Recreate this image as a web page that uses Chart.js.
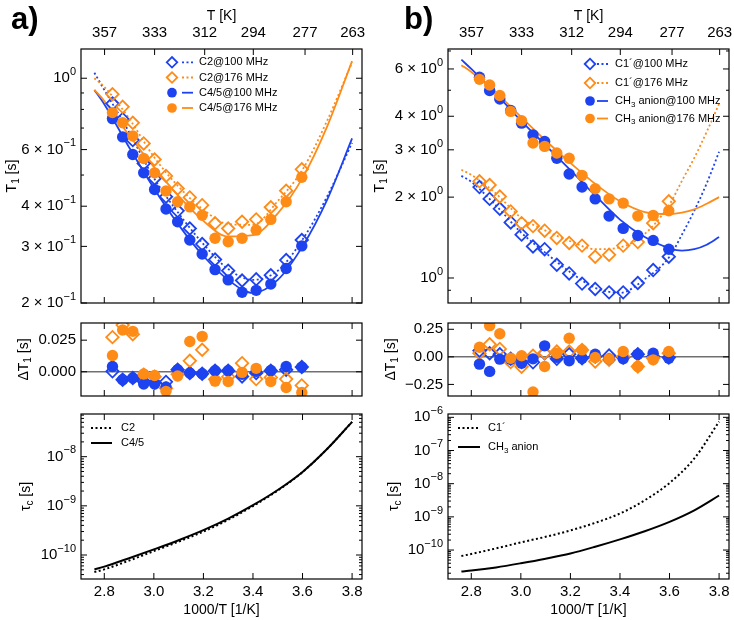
<!DOCTYPE html>
<html>
<head>
<meta charset="utf-8">
<title>T1 relaxation</title>
<script src="https://cdn.jsdelivr.net/npm/chart.js@4.4.1/dist/chart.umd.min.js"></script>
<style>
  html, body { margin: 0; padding: 0; background: #fff; }
  body { width: 734px; height: 620px; position: relative; overflow: hidden; }
  canvas { position: absolute; }
</style>
</head>
<body>
<canvas id="aTop" width="367" height="312" style="left:0;top:0"></canvas>
<canvas id="aRes" width="367" height="92" style="left:0;top:312px"></canvas>
<canvas id="aTau" width="367" height="216" style="left:0;top:404px"></canvas>
<canvas id="bTop" width="367" height="312" style="left:367px;top:0"></canvas>
<canvas id="bRes" width="367" height="92" style="left:367px;top:312px"></canvas>
<canvas id="bTau" width="367" height="216" style="left:367px;top:404px"></canvas>
<script>
const BLUE = "#1d42f0";
const ORANGE = "#ff8b17";
const FONT = "'Liberation Sans', Arial, Helvetica, sans-serif";

// shared x axis, 1000/T [1/K]
const xRange = [2.706, 3.840];
const xTicks = [2.8, 3.0, 3.2, 3.4, 3.6, 3.8];
const tempTicksK = [357, 333, 312, 294, 277, 263];

// measurement temperatures as 1000/T
const invT = [2.833, 2.874, 2.915, 2.959, 3.003, 3.049, 3.096, 3.145, 3.195, 3.247, 3.300, 3.356, 3.413, 3.472, 3.534, 3.597];

// grids the fitted curves are read on
const fitX  = [2.76, 2.8, 2.9, 3.0, 3.1, 3.2, 3.3, 3.4, 3.5, 3.6, 3.7, 3.8];
const fitXb = [2.76, 2.8, 2.9, 3.0, 3.1, 3.2, 3.3, 3.4, 3.5, 3.6, 3.65, 3.7, 3.75, 3.8];

// a) T1 [s]
const t1C2_100  = [0.834, 0.746, 0.642, 0.543, 0.488, 0.428, 0.387, 0.341, 0.305, 0.273, 0.252, 0.235, 0.237, 0.244, 0.272, 0.314];
const t1C2_176  = [0.892, 0.815, 0.727, 0.627, 0.559, 0.497, 0.454, 0.426, 0.403, 0.354, 0.341, 0.358, 0.364, 0.397, 0.447, 0.521];
const t1C45_100 = [0.749, 0.657, 0.579, 0.508, 0.451, 0.392, 0.358, 0.314, 0.284, 0.254, 0.236, 0.216, 0.219, 0.229, 0.256, 0.301];
const t1C45_176 = [0.782, 0.727, 0.661, 0.563, 0.508, 0.446, 0.413, 0.398, 0.375, 0.318, 0.310, 0.318, 0.337, 0.364, 0.413, 0.492];
const fitC2_100  = [1.04, 0.92, 0.68, 0.49, 0.38, 0.305, 0.255, 0.236, 0.252, 0.315, 0.43, 0.63];
const fitC2_176  = [1.0, 0.94, 0.75, 0.57, 0.46, 0.39, 0.352, 0.35, 0.415, 0.52, 0.74, 1.12];
const fitC45_100 = [0.92, 0.83, 0.61, 0.455, 0.35, 0.28, 0.236, 0.215, 0.236, 0.30, 0.42, 0.65];
const fitC45_176 = [0.92, 0.85, 0.665, 0.53, 0.43, 0.36, 0.322, 0.325, 0.38, 0.49, 0.71, 1.13];

// a) residuals [s]
const resC2_100  = [0.0003, -0.0063, -0.0050, -0.0076, -0.0085, -0.0080, 0.0016, -0.0010, -0.0016, 0.0008, 0.0008, -0.0037, -0.0010, 0.0008, 0.0016, 0.0037];
const resC2_176  = [0.0274, 0.0370, 0.0297, -0.0024, -0.0040, -0.0130, -0.0020, 0.0087, 0.0174, -0.0060, -0.0040, 0.0068, -0.0058, -0.0045, -0.0058, -0.0108];
const resC45_100 = [0.0042, -0.0063, -0.0050, -0.0097, -0.0097, -0.0120, 0.0016, -0.0010, -0.0016, 0.0008, 0.0008, -0.0020, 0.0003, 0.0010, 0.0042, 0.0037];
const resC45_176 = [0.0129, 0.0330, 0.0320, -0.0018, -0.0030, -0.0155, -0.0034, 0.0240, 0.0280, -0.0074, -0.0077, -0.0005, 0.0027, -0.0077, -0.0125, -0.0164];

// a) correlation times [s]
const tauC2  = [4.5e-11, 5.1e-11, 7.7e-11, 1.2e-10, 1.87e-10, 3.0e-10, 5.2e-10, 9.9e-10, 2.05e-9, 4.85e-9, 1.45e-8, 5.1e-8];
const tauC45 = [5.1e-11, 5.8e-11, 8.6e-11, 1.3e-10, 2.0e-10, 3.2e-10, 5.5e-10, 1.03e-9, 2.1e-9, 4.9e-9, 1.45e-8, 5.1e-8];

// b) T1 [s]
const t1C1_100  = [2.18, 1.97, 1.81, 1.61, 1.45, 1.31, 1.28, 1.12, 1.04, 0.953, 0.910, 0.884, 0.884, 0.958, 1.07, 1.20];
const t1C1_176  = [2.29, 2.22, 2.01, 1.77, 1.60, 1.56, 1.50, 1.41, 1.35, 1.32, 1.20, 1.22, 1.32, 1.36, 1.60, 1.93];
const t1CH3_100 = [5.59, 4.99, 4.64, 4.20, 3.77, 3.41, 3.22, 2.79, 2.44, 2.18, 1.97, 1.70, 1.53, 1.44, 1.38, 1.28];
const t1CH3_176 = [5.49, 5.23, 4.78, 4.17, 3.85, 3.18, 3.09, 2.92, 2.79, 2.41, 2.15, 1.97, 1.90, 1.70, 1.71, 1.78];
const fitC1_100  = [2.4, 2.28, 1.86, 1.48, 1.24, 1.05, 0.92, 0.88, 0.99, 1.2, 1.45, 1.78, 2.25, 2.95];
const fitC1_176  = [2.53, 2.42, 2.06, 1.68, 1.5, 1.37, 1.28, 1.3, 1.46, 1.88, 2.3, 2.8, 3.5, 4.45];
const fitCH3_100 = [6.5, 6.0, 4.85, 3.85, 3.12, 2.52, 2.03, 1.65, 1.42, 1.29, 1.265, 1.28, 1.33, 1.42];
const fitCH3_176 = [6.2, 5.85, 4.9, 3.98, 3.25, 2.68, 2.24, 1.93, 1.76, 1.73, 1.75, 1.8, 1.89, 2.0];

// b) residuals [s]
const resC1_100  = [0.057, 0.033, 0.024, -0.018, -0.048, -0.050, 0.033, -0.018, 0.024, -0.012, 0.003, 0.012, -0.006, 0.024, 0.003, -0.006];
const resC1_176  = [0.033, 0.114, 0.072, -0.048, -0.090, 0.010, 0.035, 0.048, 0.048, 0.063, -0.042, -0.027, 0.003, -0.087, -0.012, 0.033];
const resCH3_100 = [-0.066, -0.132, -0.021, -0.021, -0.057, -0.018, 0.100, -0.005, -0.036, -0.012, 0.024, -0.018, -0.018, 0.024, 0.033, -0.012];
const resCH3_176 = [0.087, 0.283, 0.210, -0.012, 0.010, -0.319, -0.088, 0.033, 0.169, 0.063, -0.006, -0.018, 0.048, -0.087, -0.027, 0.048];

// b) correlation times [s]
const tauC1  = [6.6e-11, 7.6e-11, 1.12e-10, 1.7e-10, 2.5e-10, 3.9e-10, 6.6e-10, 1.26e-9, 3.16e-9, 1.05e-8, 5.75e-8, 7.4e-7];
const tauCH3 = [2.24e-11, 2.4e-11, 3.0e-11, 4.0e-11, 5.5e-11, 7.9e-11, 1.26e-10, 2.1e-10, 3.7e-10, 7.1e-10, 1.58e-9, 4.4e-9];

// y axes: ranges, tick values, tick labels ("^" starts a superscript)
const t1RangeA = [0.2, 1.233];
const t1TicksA = [0.2, 0.3, 0.4, 0.6, 1];
const t1LabelsA = ["2 × 10^−1", "3 × 10^−1", "4 × 10^−1", "6 × 10^−1", "10^0"];
const t1MinorA = [0.5, 0.7, 0.8, 0.9];
const t1RangeB = [0.807, 7.12];
const t1TicksB = [1, 2, 3, 4, 6];
const t1LabelsB = ["10^0", "2 × 10^0", "3 × 10^0", "4 × 10^0", "6 × 10^0"];
const t1MinorB = [0.9, 5, 7];
const resRangeA = [-0.0192, 0.0386];
const resTicksA = [0, 0.025];
const resLabelsA = ["0.000", "0.025"];
const resRangeB = [-0.355, 0.307];
const resTicksB = [-0.25, 0, 0.25];
const resLabelsB = ["−0.25", "0.00", "0.25"];
const tauRangeA = [3.25e-11, 7.38e-8];
const tauTicksA = [1e-10, 1e-9, 1e-8];
const tauLabelsA = ["10^−10", "10^−9", "10^−8"];
const tauRangeB = [1.34e-11, 1.26e-6];
const tauTicksB = [1e-10, 1e-9, 1e-8, 1e-7, 1e-6];
const tauLabelsB = ["10^−10", "10^−9", "10^−8", "10^−7", "10^−6"];

Chart.defaults.font.family = FONT;
Chart.defaults.color = "#000";

function pts(xs, ys) {
  return xs.map((x, i) => ({ x: x, y: ys[i] }));
}

function markerSet(ys, color, shape) {
  const open = shape === "diamond";
  return {
    data: pts(invT, ys),
    showLine: false,
    pointStyle: open ? "rectRot" : "circle",
    pointRadius: open ? 6.2 : 5.7,
    pointBorderWidth: open ? 1.8 : 0,
    pointBorderColor: color,
    pointBackgroundColor: open ? "rgba(255,255,255,0)" : color
  };
}

function curveSet(xs, ys, color, dotted, width) {
  return {
    data: pts(xs, ys),
    showLine: true,
    pointRadius: 0,
    borderColor: color,
    borderWidth: width || 1.8,
    borderDash: dotted ? [2, 2.5] : [],
    cubicInterpolationMode: "monotone",
    fill: false
  };
}

function minorLog(lo, hi) {
  const out = [];
  for (let e = Math.floor(Math.log10(lo)); e <= Math.ceil(Math.log10(hi)); e++) {
    for (let m = 2; m <= 9; m++) {
      const v = m * Math.pow(10, e);
      if (v > lo && v < hi) out.push(v);
    }
  }
  return out;
}

// ---- axes ----
const noGrid = { display: false, drawTicks: false };

function bottomAxis(height, labels) {
  return {
    type: "linear", position: "bottom", axis: "x",
    min: xRange[0], max: xRange[1], bounds: "data",
    grid: noGrid, border: { display: false },
    afterBuildTicks: s => { s.ticks = xTicks.map(v => ({ value: v })); },
    afterFit: s => { s.height = height; s.paddingLeft = 0; s.paddingRight = 0; },
    ticks: { display: labels, autoSkip: false, maxRotation: 0, padding: 4, font: { size: 15 },
             callback: v => v.toFixed(1) },
    title: { display: labels, text: "1000/T [1/K]", font: { size: 14 }, padding: { top: 0, bottom: 1 } }
  };
}

function tempAxis() {
  return {
    type: "linear", position: "top", axis: "x",
    min: xRange[0], max: xRange[1], bounds: "data",
    grid: noGrid, border: { display: false },
    afterBuildTicks: s => { s.ticks = tempTicksK.map(T => ({ value: 1000 / T })); },
    afterFit: s => { s.height = 49; s.paddingLeft = 0; s.paddingRight = 0; },
    ticks: { autoSkip: false, maxRotation: 0, padding: 7, font: { size: 15 },
             callback: (v, i) => String(tempTicksK[i]) },
    title: { display: true, text: "T [K]", font: { size: 14 }, padding: { top: 8, bottom: 0 } }
  };
}

// y labels are drawn by the decor plugin so exponents can be real superscripts
function leftAxis(type, range, ticks, labels) {
  return {
    type: type, position: "left", axis: "y",
    min: range[0], max: range[1], bounds: "data",
    grid: noGrid, border: { display: false },
    afterBuildTicks: s => { s.ticks = ticks.map(v => ({ value: v })); },
    afterFit: s => { s.width = 81; s.paddingTop = 0; s.paddingBottom = 0; },
    ticks: { display: false, autoSkip: false, callback: (v, i) => labels[i] }
  };
}

// ---- drawing helpers ----
function partFont(p, size) {
  const sz = p[1] === "sub" || p[1] === "sup" ? Math.round(size * 0.7) : size;
  return sz + "px " + FONT;
}

function drawParts(ctx, parts, x, y, size, align) {
  let total = 0;
  parts.forEach(p => { ctx.font = partFont(p, size); total += ctx.measureText(p[0]).width; });
  let cx = x;
  if (align === "center") cx = x - total / 2;
  if (align === "right") cx = x - total;
  ctx.textAlign = "left";
  ctx.textBaseline = "middle";
  parts.forEach(p => {
    ctx.font = partFont(p, size);
    let dy = 0;
    if (p[1] === "sub") dy = size * 0.3;
    if (p[1] === "sup") dy = -size * 0.42;
    ctx.fillText(p[0], cx, y + dy);
    cx += ctx.measureText(p[0]).width;
  });
}

function labelParts(label) {
  const bits = label.split("^");
  return bits.length > 1 ? [[bits[0]], [bits[1], "sup"]] : [[label]];
}

// box, inward ticks on all sides, optional zero line
function framePlugin(cfg) {
  return {
    id: "frame",
    beforeDatasetsDraw(chart) {
      if (!cfg.zeroLine) return;
      const { ctx, chartArea: a, scales } = chart;
      const py = scales.y.getPixelForValue(0);
      ctx.save();
      ctx.strokeStyle = "#707070";
      ctx.lineWidth = 1.5;
      ctx.beginPath();
      ctx.moveTo(a.left, py);
      ctx.lineTo(a.right, py);
      ctx.stroke();
      ctx.restore();
    },
    afterDatasetsDraw(chart) {
      const { ctx, chartArea: a, scales } = chart;
      const seg = (x0, y0, x1, y1) => { ctx.moveTo(x0, y0); ctx.lineTo(x1, y1); };
      ctx.save();
      ctx.strokeStyle = "#000";
      ctx.lineWidth = 1;
      ctx.setLineDash([]);
      ctx.beginPath();
      scales.x.ticks.forEach(t => {
        const px = scales.x.getPixelForValue(t.value);
        seg(px, a.bottom, px, a.bottom - 6);
      });
      const top = scales.x2 || scales.x;
      top.ticks.forEach(t => {
        const px = top.getPixelForValue(t.value);
        seg(px, a.top, px, a.top + 6);
      });
      scales.y.ticks.forEach(t => {
        const py = scales.y.getPixelForValue(t.value);
        seg(a.left, py, a.left + 6, py);
        seg(a.right, py, a.right - 6, py);
      });
      (cfg.minor || []).forEach(v => {
        const py = scales.y.getPixelForValue(v);
        seg(a.left, py, a.left + 3, py);
        seg(a.right, py, a.right - 3, py);
      });
      ctx.stroke();
      ctx.lineWidth = 1.2;
      ctx.strokeRect(a.left, a.top, a.right - a.left, a.bottom - a.top);
      ctx.restore();
    }
  };
}

// panel tag, y tick labels, y title, legend
function decorPlugin(cfg) {
  return {
    id: "decor",
    afterDraw(chart) {
      const { ctx, chartArea: a, scales } = chart;
      ctx.save();
      ctx.fillStyle = "#000";
      if (cfg.tag) {
        ctx.font = "bold 31px " + FONT;
        ctx.textAlign = "left";
        ctx.textBaseline = "alphabetic";
        ctx.fillText(cfg.tag.text, cfg.tag.x, cfg.tag.y);
      }
      cfg.yLabels.forEach((lab, i) => {
        const py = scales.y.getPixelForValue(scales.y.ticks[i].value);
        drawParts(ctx, labelParts(lab), a.left - 5, py, 15, "right");
      });
      if (cfg.yTitle) {
        ctx.save();
        ctx.translate(cfg.yTitle.x, (a.top + a.bottom) / 2);
        ctx.rotate(-Math.PI / 2);
        drawParts(ctx, cfg.yTitle.parts, 0, 0, 14, "center");
        ctx.restore();
      }
      const L = cfg.legend;
      if (L) {
        L.rows.forEach((r, i) => {
          const y = L.ys[i];
          const ln = chart.data.datasets[r.ln];
          ctx.save();
          ctx.strokeStyle = ln.borderColor;
          ctx.lineWidth = ln.borderWidth;
          ctx.setLineDash(ln.borderDash || []);
          ctx.beginPath();
          ctx.moveTo(L.x0, y);
          ctx.lineTo(L.x1, y);
          ctx.stroke();
          ctx.restore();
          if (r.pt !== undefined) {
            const p = chart.data.datasets[r.pt];
            ctx.save();
            ctx.setLineDash([]);
            ctx.fillStyle = p.pointBackgroundColor;
            ctx.strokeStyle = p.pointBorderColor;
            ctx.lineWidth = p.pointBorderWidth;
            Chart.helpers.drawPoint(ctx, { pointStyle: p.pointStyle, radius: p.pointRadius * 0.85, rotation: 0,
                                           borderWidth: p.pointBorderWidth }, L.mx, y);
            ctx.restore();
          }
          ctx.fillStyle = "#000";
          drawParts(ctx, r.parts, L.tx, y, 11, "left");
        });
      }
      ctx.restore();
    }
  };
}

function makeChart(id, datasets, scales, padTop, frame, decor) {
  return new Chart(document.getElementById(id), {
    type: "scatter",
    data: { datasets: datasets },
    options: {
      responsive: false,
      animation: false,
      devicePixelRatio: 1,
      events: [],
      layout: { autoPadding: false, padding: { top: padTop, right: 5, bottom: 0, left: 0 } },
      plugins: { legend: { display: false }, tooltip: { enabled: false } },
      scales: scales
    },
    plugins: [framePlugin(frame), decorPlugin(decor)]
  });
}

const T1 = [["T"], ["1", "sub"], [" [s]"]];
const DT1 = [["ΔT"], ["1", "sub"], [" [s]"]];
const TAU = [["τ"], ["c", "sub"], [" [s]"]];

// ---- a) ----
makeChart("aTop", [
  markerSet(t1C45_176, ORANGE, "circle"),
  markerSet(t1C45_100, BLUE, "circle"),
  markerSet(t1C2_176, ORANGE, "diamond"),
  markerSet(t1C2_100, BLUE, "diamond"),
  curveSet(fitX, fitC45_176, ORANGE, false),
  curveSet(fitX, fitC45_100, BLUE, false),
  curveSet(fitX, fitC2_176, ORANGE, true),
  curveSet(fitX, fitC2_100, BLUE, true)
], {
  x: bottomAxis(9, false), x2: tempAxis(),
  y: leftAxis("logarithmic", t1RangeA, t1TicksA, t1LabelsA)
}, 0, { minor: t1MinorA }, {
  tag: { text: "a)", x: 11, y: 29 },
  yLabels: t1LabelsA,
  yTitle: { x: 12, parts: T1 },
  legend: {
    ys: [62.3, 77.5, 92.7, 108], mx: 172, x0: 182, x1: 193, tx: 199,
    rows: [
      { pt: 3, ln: 7, parts: [["C2@100 MHz"]] },
      { pt: 2, ln: 6, parts: [["C2@176 MHz"]] },
      { pt: 1, ln: 5, parts: [["C4/5@100 MHz"]] },
      { pt: 0, ln: 4, parts: [["C4/5@176 MHz"]] }
    ]
  }
});

makeChart("aRes", [
  markerSet(resC45_176, ORANGE, "circle"),
  markerSet(resC45_100, BLUE, "circle"),
  markerSet(resC2_176, ORANGE, "diamond"),
  markerSet(resC2_100, BLUE, "diamond")
], {
  x: bottomAxis(8, false),
  y: leftAxis("linear", resRangeA, resTicksA, resLabelsA)
}, 11, { zeroLine: true }, { yLabels: resLabelsA, yTitle: { x: 24, parts: DT1 } });

makeChart("aTau", [
  curveSet(fitX, tauC2, "#000", true, 2),
  curveSet(fitX, tauC45, "#000", false, 2)
], {
  x: bottomAxis(41, true),
  y: leftAxis("logarithmic", tauRangeA, tauTicksA, tauLabelsA)
}, 10, { minor: minorLog(tauRangeA[0], tauRangeA[1]) }, {
  yLabels: tauLabelsA,
  yTitle: { x: 26, parts: TAU },
  legend: {
    ys: [24, 39], x0: 91, x1: 112, tx: 121,
    rows: [
      { ln: 0, parts: [["C2"]] },
      { ln: 1, parts: [["C4/5"]] }
    ]
  }
});

// ---- b) ----
makeChart("bTop", [
  markerSet(t1CH3_176, ORANGE, "circle"),
  markerSet(t1CH3_100, BLUE, "circle"),
  markerSet(t1C1_176, ORANGE, "diamond"),
  markerSet(t1C1_100, BLUE, "diamond"),
  curveSet(fitXb, fitCH3_176, ORANGE, false),
  curveSet(fitXb, fitCH3_100, BLUE, false),
  curveSet(fitXb, fitC1_176, ORANGE, true),
  curveSet(fitXb, fitC1_100, BLUE, true)
], {
  x: bottomAxis(9, false), x2: tempAxis(),
  y: leftAxis("logarithmic", t1RangeB, t1TicksB, t1LabelsB)
}, 0, { minor: t1MinorB }, {
  tag: { text: "b)", x: 37, y: 29 },
  yLabels: t1LabelsB,
  yTitle: { x: 13, parts: T1 },
  legend: {
    ys: [64, 83, 101, 118.5], mx: 223, x0: 230, x1: 241, tx: 248,
    rows: [
      { pt: 3, ln: 7, parts: [["C1´@100 MHz"]] },
      { pt: 2, ln: 6, parts: [["C1´@176 MHz"]] },
      { pt: 1, ln: 5, parts: [["CH"], ["3", "sub"], [" anion@100 MHz"]] },
      { pt: 0, ln: 4, parts: [["CH"], ["3", "sub"], [" anion@176 MHz"]] }
    ]
  }
});

makeChart("bRes", [
  markerSet(resCH3_176, ORANGE, "circle"),
  markerSet(resCH3_100, BLUE, "circle"),
  markerSet(resC1_176, ORANGE, "diamond"),
  markerSet(resC1_100, BLUE, "diamond")
], {
  x: bottomAxis(8, false),
  y: leftAxis("linear", resRangeB, resTicksB, resLabelsB)
}, 11, { zeroLine: true }, { yLabels: resLabelsB, yTitle: { x: 24, parts: DT1 } });

makeChart("bTau", [
  curveSet(fitX, tauC1, "#000", true, 2),
  curveSet(fitX, tauCH3, "#000", false, 2)
], {
  x: bottomAxis(41, true),
  y: leftAxis("logarithmic", tauRangeB, tauTicksB, tauLabelsB)
}, 10, { minor: minorLog(tauRangeB[0], tauRangeB[1]) }, {
  yLabels: tauLabelsB,
  yTitle: { x: 27, parts: TAU },
  legend: {
    ys: [24, 43], x0: 91, x1: 113, tx: 121,
    rows: [
      { ln: 0, parts: [["C1´"]] },
      { ln: 1, parts: [["CH"], ["3", "sub"], [" anion"]] }
    ]
  }
});
</script>
</body>
</html>
